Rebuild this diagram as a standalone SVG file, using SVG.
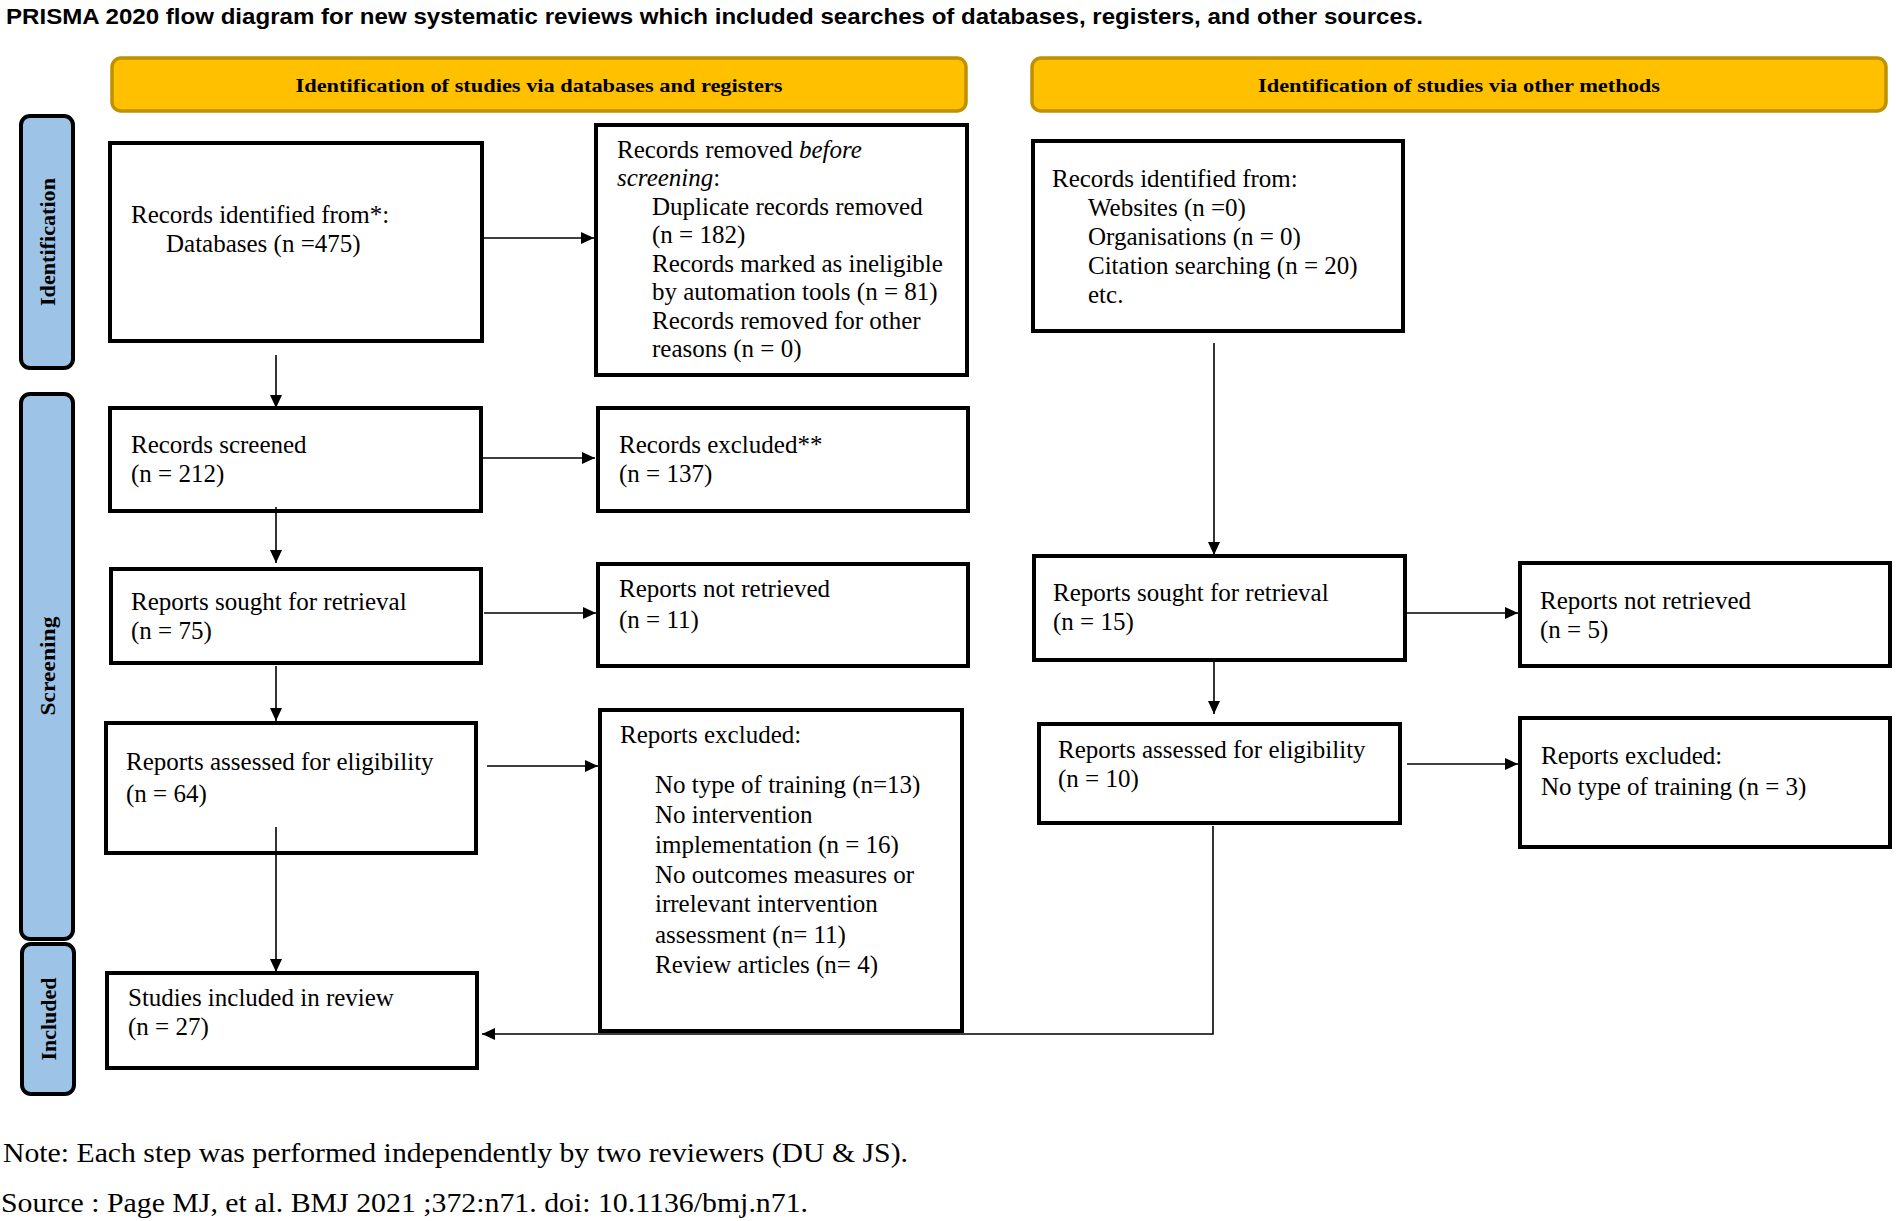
<svg xmlns="http://www.w3.org/2000/svg" width="1896" height="1221" viewBox="0 0 1896 1221">
<style>
.title{font-family:"Liberation Sans",Arial,sans-serif;font-weight:bold;font-size:22px;fill:#000}
.hdr{fill:#FFC000;stroke:#BF9000;stroke-width:3.5}
.hdrt{font-family:"Liberation Serif","Times New Roman",serif;font-weight:bold;font-size:19px;fill:#000;text-anchor:middle}
.side{fill:#9DC3E6;stroke:#000;stroke-width:4}
.sidet{font-family:"Liberation Serif","Times New Roman",serif;font-weight:bold;font-size:22px;fill:#000;text-anchor:middle}
.box{fill:#fff;stroke:#000;stroke-width:4}
.t{font-family:"Liberation Serif","Times New Roman",serif;font-size:25px;fill:#000}
.note{font-family:"Liberation Serif","Times New Roman",serif;font-size:27px;fill:#000}
.c{fill:none;stroke:#000;stroke-width:1.6}
</style>
<defs>
<marker id="ah" markerUnits="userSpaceOnUse" markerWidth="14" markerHeight="12" refX="13" refY="6" orient="auto">
<path d="M0,0 L13,6 L0,12 Z" fill="#000"/>
</marker>
</defs>
<rect width="1896" height="1221" fill="#fff"/>
<text class="title" x="6" y="24" textLength="1417" lengthAdjust="spacingAndGlyphs">PRISMA 2020 flow diagram for new systematic reviews which included searches of databases, registers, and other sources.</text>

<g id="header-db">
<rect class="hdr" x="112" y="58" width="854" height="53" rx="9"/>
<text class="hdrt" x="539" y="92" textLength="487" lengthAdjust="spacingAndGlyphs">Identification of studies via databases and registers</text>
</g>
<g id="header-other">
<rect class="hdr" x="1032" y="58" width="854" height="53" rx="9"/>
<text class="hdrt" x="1459" y="92" textLength="402" lengthAdjust="spacingAndGlyphs">Identification of studies via other methods</text>
</g>

<g id="side-identification">
<rect class="side" x="21" y="116" width="52" height="252" rx="9"/>
<text class="sidet" transform="translate(55,242) rotate(-90)" textLength="128" lengthAdjust="spacingAndGlyphs">Identification</text>
</g>
<g id="side-screening">
<rect class="side" x="21" y="394" width="52" height="545" rx="9"/>
<text class="sidet" transform="translate(55,666) rotate(-90)" textLength="99" lengthAdjust="spacingAndGlyphs">Screening</text>
</g>
<g id="side-included">
<rect class="side" x="22" y="944" width="52" height="150" rx="9"/>
<text class="sidet" transform="translate(56,1019) rotate(-90)" textLength="83" lengthAdjust="spacingAndGlyphs">Included</text>
</g>

<g id="records-identified-db">
<rect class="box" x="110" y="143" width="372" height="198"/>
<text class="t" x="131" y="223">Records identified from*:</text>
<text class="t" x="166" y="252">Databases (n =475)</text>
</g>
<g id="records-removed">
<rect class="box" x="596" y="125" width="371" height="250"/>
<text class="t" x="617" y="158">Records removed <tspan font-style="italic">before</tspan></text>
<text class="t" x="617" y="186"><tspan font-style="italic">screening</tspan>:</text>
<text class="t" x="652" y="215">Duplicate records removed</text>
<text class="t" x="652" y="243">(n = 182)</text>
<text class="t" x="652" y="272">Records marked as ineligible</text>
<text class="t" x="652" y="300">by automation tools (n = 81)</text>
<text class="t" x="652" y="329">Records removed for other</text>
<text class="t" x="652" y="357">reasons (n = 0)</text>
</g>
<g id="records-screened">
<rect class="box" x="110" y="408" width="371" height="103"/>
<text class="t" x="131" y="453">Records screened</text>
<text class="t" x="131" y="482">(n = 212)</text>
</g>
<g id="records-excluded">
<rect class="box" x="598" y="408" width="370" height="103"/>
<text class="t" x="619" y="453">Records excluded**</text>
<text class="t" x="619" y="482">(n = 137)</text>
</g>
<g id="reports-sought-db">
<rect class="box" x="111" y="569" width="370" height="94"/>
<text class="t" x="131" y="610">Reports sought for retrieval</text>
<text class="t" x="131" y="639">(n = 75)</text>
</g>
<g id="reports-not-retrieved-db">
<rect class="box" x="598" y="564" width="370" height="102"/>
<text class="t" x="619" y="597">Reports not retrieved</text>
<text class="t" x="619" y="628">(n = 11)</text>
</g>
<g id="reports-assessed-db">
<rect class="box" x="106" y="723" width="370" height="130"/>
<text class="t" x="126" y="770">Reports assessed for eligibility</text>
<text class="t" x="126" y="802">(n = 64)</text>
</g>
<g id="reports-excluded-db">
<rect class="box" x="600" y="710" width="362" height="321"/>
<text class="t" x="620" y="743">Reports excluded:</text>
<text class="t" x="655" y="793">No type of training (n=13)</text>
<text class="t" x="655" y="823">No intervention</text>
<text class="t" x="655" y="853">implementation (n = 16)</text>
<text class="t" x="655" y="883">No outcomes measures or</text>
<text class="t" x="655" y="912">irrelevant intervention</text>
<text class="t" x="655" y="943">assessment (n= 11)</text>
<text class="t" x="655" y="973">Review articles (n= 4)</text>
</g>
<g id="studies-included">
<rect class="box" x="107" y="973" width="370" height="95"/>
<text class="t" x="128" y="1006">Studies included in review</text>
<text class="t" x="128" y="1035">(n = 27)</text>
</g>

<g id="records-identified-other">
<rect class="box" x="1033" y="141" width="370" height="190"/>
<text class="t" x="1052" y="187">Records identified from:</text>
<text class="t" x="1088" y="216">Websites (n =0)</text>
<text class="t" x="1088" y="245">Organisations (n = 0)</text>
<text class="t" x="1088" y="274">Citation searching (n = 20)</text>
<text class="t" x="1088" y="303">etc.</text>
</g>
<g id="reports-sought-other">
<rect class="box" x="1034" y="556" width="371" height="104"/>
<text class="t" x="1053" y="601">Reports sought for retrieval</text>
<text class="t" x="1053" y="630">(n = 15)</text>
</g>
<g id="reports-not-retrieved-other">
<rect class="box" x="1520" y="563" width="370" height="103"/>
<text class="t" x="1540" y="609">Reports not retrieved</text>
<text class="t" x="1540" y="638">(n = 5)</text>
</g>
<g id="reports-assessed-other">
<rect class="box" x="1039" y="724" width="361" height="99"/>
<text class="t" x="1058" y="758">Reports assessed for eligibility</text>
<text class="t" x="1058" y="787">(n = 10)</text>
</g>
<g id="reports-excluded-other">
<rect class="box" x="1520" y="718" width="370" height="129"/>
<text class="t" x="1541" y="764">Reports excluded:</text>
<text class="t" x="1541" y="795">No type of training (n = 3)</text>
</g>

<g id="connectors">
<line class="c" x1="483" y1="238" x2="594" y2="238" marker-end="url(#ah)"/>
<line class="c" x1="276" y1="355" x2="276" y2="408" marker-end="url(#ah)"/>
<line class="c" x1="483" y1="458" x2="595" y2="458" marker-end="url(#ah)"/>
<line class="c" x1="276" y1="507" x2="276" y2="563" marker-end="url(#ah)"/>
<line class="c" x1="484" y1="613" x2="596" y2="613" marker-end="url(#ah)"/>
<line class="c" x1="276" y1="666" x2="276" y2="721" marker-end="url(#ah)"/>
<line class="c" x1="487" y1="766" x2="598" y2="766" marker-end="url(#ah)"/>
<line class="c" x1="276" y1="827" x2="276" y2="972" marker-end="url(#ah)"/>
<line class="c" x1="1214" y1="343" x2="1214" y2="555" marker-end="url(#ah)"/>
<line class="c" x1="1407" y1="613" x2="1518" y2="613" marker-end="url(#ah)"/>
<line class="c" x1="1214" y1="661" x2="1214" y2="714" marker-end="url(#ah)"/>
<line class="c" x1="1407" y1="764" x2="1518" y2="764" marker-end="url(#ah)"/>
<polyline class="c" points="1213,826 1213,1034 482,1034" marker-end="url(#ah)"/>
</g>

<text class="note" x="3" y="1162" textLength="905" lengthAdjust="spacingAndGlyphs">Note: Each step was performed independently by two reviewers (DU &amp; JS).</text>
<text class="note" x="1" y="1212" textLength="807" lengthAdjust="spacingAndGlyphs">Source : Page MJ, et al. BMJ 2021 ;372:n71. doi: 10.1136/bmj.n71.</text>
</svg>
